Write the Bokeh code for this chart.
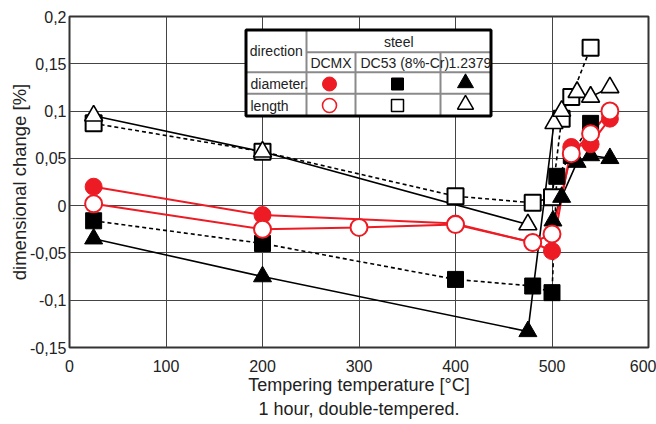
from bokeh.plotting import figure
from bokeh.models import FixedTicker, CustomJSTickFormatter
from bokeh.core.properties import value
from bokeh.embed import file_html
from bokeh.resources import INLINE

# ---------------- data ----------------
x_ticks = [0, 100, 200, 300, 400, 500, 600]
y_ticks = [-0.15, -0.1, -0.05, 0, 0.05, 0.1, 0.15, 0.2]

# DCMX
dcmx_dia_x = [25, 200, 400, 480, 500, 520, 540, 560]
dcmx_dia_y = [0.020, -0.010, -0.019, -0.039, -0.048, 0.062, 0.065, 0.092]
dcmx_len_x = [25, 200, 300, 400, 480, 500, 520, 540, 560]
dcmx_len_y = [0.002, -0.025, -0.023, -0.020, -0.039, -0.030, 0.055, 0.076, 0.100]

# DC53 (8%-Cr)
dc53_dia_x = [25, 200, 400, 480, 500, 505, 520, 540]
dc53_dia_y = [-0.016, -0.040, -0.078, -0.085, -0.092, 0.031, 0.053, 0.087]
dc53_len_x = [25, 200, 400, 480, 500, 510, 520, 540]
dc53_len_y = [0.087, 0.057, 0.010, 0.003, 0.009, 0.092, 0.115, 0.167]

# 1.2379
s2379_dia_x = [25, 200, 475, 501, 510, 526, 540, 560]
s2379_dia_y = [-0.035, -0.075, -0.133, -0.016, 0.009, 0.046, 0.053, 0.050]
s2379_len_x = [25, 200, 475, 502, 510, 526, 540, 560]
s2379_len_y = [0.095, 0.057, -0.020, 0.087, 0.100, 0.120, 0.115, 0.125]

RED = "#ED1C24"
FONT = "Liberation Sans"

# frame geometry (pixels) used for the legend table placement
FL, FR, FT, FB = 69, 648, 16, 347
W, H = 656, 424

p = figure(width=W, height=H, x_range=(0, 600), y_range=(-0.15, 0.2),
           output_backend="svg", toolbar_location=None,
           min_border_left=FL, min_border_right=W - FR,
           min_border_top=FT, min_border_bottom=H - FB)
p.background_fill_color = "white"
p.border_fill_color = "white"
p.outline_line_color = "#333333"
p.outline_line_width = 2

p.xaxis.ticker = FixedTicker(ticks=x_ticks)
p.yaxis.ticker = FixedTicker(ticks=y_ticks)
p.xgrid.ticker = FixedTicker(ticks=x_ticks)
p.ygrid.ticker = FixedTicker(ticks=y_ticks)
for g in (p.xgrid, p.ygrid):
    g.grid_line_color = "#444444"
    g.grid_line_width = 1

p.yaxis.formatter = CustomJSTickFormatter(
    code="var s = (Math.round(tick*100)/100).toString(); return s.replace('.', ',');")

for ax in (p.xaxis, p.yaxis):
    ax.axis_line_color = None
    ax.major_tick_line_color = None
    ax.minor_tick_line_color = None
    ax.major_tick_out = 0
    ax.major_tick_in = 0
    ax.minor_tick_out = 0
    ax.minor_tick_in = 0
    ax.major_label_text_font = FONT
    ax.major_label_text_font_size = "16px"
    ax.major_label_text_color = "#222222"
    ax.axis_label_text_font = FONT
    ax.axis_label_text_font_size = "18px"
    ax.axis_label_text_font_style = "normal"
    ax.axis_label_text_color = "#222222"

p.yaxis.axis_label_text_font_size = "18.5px"
p.xaxis.major_label_standoff = 12
p.yaxis.major_label_standoff = 3
p.xaxis.axis_label = "Tempering temperature [°C]\n1 hour, double-tempered."
p.yaxis.axis_label = "dimensional change [%]"
p.xaxis.axis_label_standoff = 0
p.yaxis.axis_label_standoff = -3

DASH = "4 3"

# ---------------- lines ----------------
# DC53 (dashed)
p.line(dc53_dia_x, dc53_dia_y, line_color="black", line_width=1.6, line_dash=DASH)
p.line(dc53_len_x, dc53_len_y, line_color="black", line_width=1.6, line_dash=DASH)
# 1.2379 (solid)
p.line(s2379_dia_x[:3], s2379_dia_y[:3], line_color="black", line_width=1.6)
p.line([s2379_dia_x[2], s2379_len_x[3]], [s2379_dia_y[2], s2379_len_y[3]],
       line_color="black", line_width=1.6)
p.line(s2379_dia_x[3:], s2379_dia_y[3:], line_color="black", line_width=1.6)
p.line(s2379_len_x[:3], s2379_len_y[:3], line_color="black", line_width=1.6)
p.line(s2379_len_x[3:], s2379_len_y[3:], line_color="black", line_width=1.6)
# DCMX (red)
p.line(dcmx_dia_x, dcmx_dia_y, line_color=RED, line_width=2)
p.line(dcmx_len_x, dcmx_len_y, line_color=RED, line_width=2)

# ---------------- markers ----------------
p.scatter(dc53_dia_x, dc53_dia_y, marker="square", size=16, fill_color="black",
          line_color="black")
p.scatter(dc53_len_x, dc53_len_y, marker="square", size=16, fill_color="white",
          line_color="black", line_width=2)
p.scatter(s2379_dia_x, s2379_dia_y, marker="triangle", size=18, fill_color="black",
          line_color="black")
p.scatter(s2379_len_x, s2379_len_y, marker="triangle", size=18, fill_color="white",
          line_color="black", line_width=1.6)
p.scatter(dcmx_dia_x, dcmx_dia_y, marker="circle", size=17, fill_color=RED,
          line_color=RED)
p.scatter(dcmx_len_x, dcmx_len_y, marker="circle", size=17, fill_color="white",
          line_color=RED, line_width=2)

# ---------------- legend table ----------------
def X(px):
    return (px - FL) * 600.0 / (FR - FL)

def Y(py):
    return 0.2 - (py - FT) * 0.35 / (FB - FT)

tl, tr, tt, tb = 245.5, 490.5, 29.5, 115.5
c1, c2, c3 = 306, 355, 440
r1, r2, r3 = 51.7, 71.7, 93.3

p.quad(left=[X(tl)], right=[X(tr)], top=[Y(tt)], bottom=[Y(tb)],
       fill_color="white", line_color=None)
seg_x0 = [X(c1), X(c2), X(c3), X(c1), X(tl), X(tl)]
seg_x1 = [X(c1), X(c2), X(c3), X(tr), X(tr), X(tr)]
seg_y0 = [Y(tt), Y(r1), Y(r1), Y(r1), Y(r2), Y(r3)]
seg_y1 = [Y(tb), Y(tb), Y(tb), Y(r1), Y(r2), Y(r3)]
p.segment(seg_x0, seg_y0, seg_x1, seg_y1, line_color="#8a8a8a", line_width=2)
p.quad(left=[X(tl)], right=[X(tr)], top=[Y(tt)], bottom=[Y(tb)],
       fill_color=None, line_color="black", line_width=3)

txt = dict(text_font=value(FONT), text_font_size="14px", text_color="#222222",
           text_baseline="middle")
p.text([X((tl + c1) / 2)], [Y((tt + r2) / 2)], text=["direction"], text_align="center", **txt)
p.text([X((c1 + tr) / 2)], [Y(41.5)], text=["steel"], text_align="center", **txt)
p.text([X((c1 + c2) / 2)], [Y(62.5)], text=["DCMX"], text_align="center", **txt)
p.text([X(360)], [Y(62.5)], text=["DC53 (8%-Cr)"], text_align="left", **txt)
p.text([X(448)], [Y(62.5)], text=["1.2379"], text_align="left", **txt)
p.text([X(250)], [Y(83.5)], text=["diameter."], text_align="left", **txt)
p.text([X(250)], [Y(105)], text=["length"], text_align="left", **txt)

m1, m2, m3 = 329, 397, 465
ry3, ry4 = 83.5, 105
p.scatter([X(m1)], [Y(ry3)], marker="circle", size=14, fill_color=RED, line_color=RED)
p.scatter([X(m1)], [Y(ry4)], marker="circle", size=14, fill_color="white",
          line_color=RED, line_width=1.6)
p.scatter([X(m2)], [Y(ry3)], marker="square", size=12, fill_color="black", line_color="black")
p.scatter([X(m2)], [Y(ry4)], marker="square", size=12, fill_color="white",
          line_color="black", line_width=1.5)
p.scatter([X(m3)], [Y(ry3) + 0.001], marker="triangle", size=16, fill_color="black",
          line_color="black")
p.scatter([X(m3)], [Y(ry4) + 0.001], marker="triangle", size=16, fill_color="white",
          line_color="black", line_width=1.5)

open("out.html", "w").write(file_html(p, INLINE))
